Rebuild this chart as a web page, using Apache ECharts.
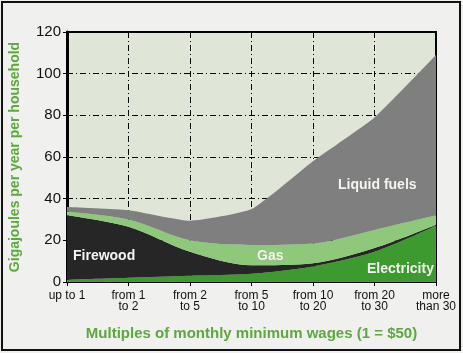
<!DOCTYPE html>
<html><head><meta charset="utf-8">
<script src="https://cdn.jsdelivr.net/npm/echarts@6/dist/echarts.min.js"></script>
<style>html,body{margin:0;padding:0;background:#f0f0ee}#c{width:463px;height:353px}</style>
</head><body><div id="c"></div>
<script>
const categories = ["up to 1", "from 1\nto 2", "from 2\nto 5", "from 5\nto 10", "from 10\nto 20", "from 20\nto 30", "more\nthan 30"];
const electricity = [1, 2, 3, 4, 7.5, 14.5, 27];
const firewood = [31, 24.5, 11.5, 4, 1.5, 1.8, 0.5];
const gas = [1.7, 3.5, 5.5, 9.8, 9.5, 8.7, 4.5];
const liquidFuels = [2.3, 4.5, 9.4, 17.2, 39.5, 54, 77];
const yTicks = [0, 20, 40, 60, 80, 100, 120];

const chart = echarts.init(document.getElementById('c'));
function area(name, data, color, smooth) {
  return { name, type: 'line', stack: 'all', data, smooth: smooth, symbol: 'none',
    lineStyle: { width: 0 }, areaStyle: { color, opacity: 1 }, z: 3 };
}
const labelStyle = { fill: '#f4f4f0', font: 'bold 14px "Liberation Sans", Arial, sans-serif' };
chart.setOption({
  backgroundColor: '#f0f0ee',
  animation: false,
  grid: { left: 67, right: 27, top: 32, bottom: 71, show: true, backgroundColor: '#dfe6d8', borderColor: '#000', borderWidth: 2 },
  xAxis: {
    type: 'category', data: categories, boundaryGap: false,
    axisLine: { lineStyle: { color: '#000', width: 2 } },
    axisTick: { show: true, length: 4, lineStyle: { color: '#000' } },
    axisLabel: { color: '#111', fontSize: 12, lineHeight: 11, margin: 8, fontFamily: 'Liberation Sans, Arial' },
    splitLine: { show: true, lineStyle: { color: '#000', type: [6, 3, 1, 3], width: 1 } },
    name: 'Multiples of monthly minimum wages (1 = $50)', nameLocation: 'middle', nameGap: 44,
    nameTextStyle: { color: '#5aaa3c', fontSize: 15, fontWeight: 'bold', fontFamily: 'Liberation Sans, Arial' }
  },
  yAxis: {
    type: 'value', min: 0, max: 120, interval: 20,
    axisLine: { show: true, lineStyle: { color: '#000', width: 3 } },
    axisTick: { show: true, length: 4, lineStyle: { color: '#000' } },
    axisLabel: { color: '#111', fontSize: 15, margin: 6, fontFamily: 'Liberation Sans, Arial',
      formatter: v => yTicks.includes(v) ? String(v) : '' },
    splitLine: { show: true, lineStyle: { color: '#000', type: [6, 3, 1, 3], width: 1 } },
    name: 'Gigajoules per year per household', nameLocation: 'middle', nameGap: 45, nameRotate: 90,
    nameTextStyle: { color: '#5aaa3c', fontSize: 14, fontWeight: 'bold', fontFamily: 'Liberation Sans, Arial' }
  },
  series: [
    area('Electricity', electricity, '#3d9a2e', 0.3),
    area('Firewood', firewood, '#262626', 0.3),
    area('Gas', gas, '#8ec87b', 0.3),
    area('Liquid fuels', liquidFuels, '#7f7f7f', 0.15)
  ],
  graphic: [
    { type: 'rect', shape: { x: 2, y: 2, width: 458, height: 348 }, style: { fill: 'none', stroke: '#111', lineWidth: 2 }, silent: true },
    { type: 'text', left: 73, top: 249, style: Object.assign({ text: 'Firewood' }, labelStyle), z: 10 },
    { type: 'text', left: 257, top: 249, style: Object.assign({ text: 'Gas' }, labelStyle), z: 10 },
    { type: 'text', left: 367, top: 262, style: Object.assign({ text: 'Electricity' }, labelStyle), z: 10 },
    { type: 'text', left: 338, top: 178, style: Object.assign({ text: 'Liquid fuels' }, labelStyle), z: 10 }
  ]
});
</script></body></html>
